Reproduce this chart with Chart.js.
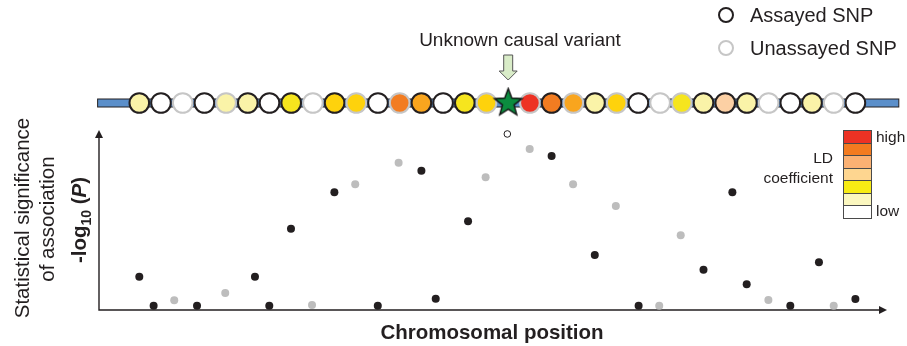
<!DOCTYPE html>
<html lang="en">
<head>
  <meta charset="UTF-8" />
  <title>Causal variant and LD</title>
  <script src="https://cdn.jsdelivr.net/npm/chart.js"></script>
  <style>
    body {
      margin: 0;
      background: #fff;
      font-family: "Liberation Sans", Arial, Helvetica, sans-serif;
      color: #231f20;
    }
    #wrap {
      position: relative;
      width: 907px;
      height: 346px;
      overflow: hidden;
    }
    #chart {
      position: absolute;
      left: 0;
      top: 0;
    }
    .lbl {
      position: absolute;
      white-space: nowrap;
      line-height: 1;
    }
    .rot {
      transform: translate(-50%, -50%) rotate(-90deg);
    }
    .ctr {
      transform: translate(-50%, -50%);
    }
    .mark {
      position: absolute;
      width: 12px;
      height: 12px;
      border-radius: 50%;
      border: 2px solid #231f20;
      transform: translate(-50%, -50%);
      background: #fff;
    }
    .ld-box {
      position: absolute;
      left: 843px;
      width: 27px;
      height: 11.5px;
      border: 1px solid #4a4a4a;
    }
  </style>
</head>
<body>
  <div id="wrap">
    <canvas id="chart" width="907" height="346"></canvas>

    <div class="lbl ctr" style="left:520px; top:39px; font-size:19px;">Unknown causal variant</div>

    <div class="mark" style="left:726px; top:15px;"></div>
    <div class="lbl" style="left:750px; top:5px; font-size:20px;">Assayed SNP</div>
    <div class="mark" style="left:726px; top:48px; border-color:#c6c6c6;"></div>
    <div class="lbl" style="left:750px; top:38px; font-size:20px;">Unassayed SNP</div>

    <div id="ld-scale"></div>
    <div class="lbl" style="left:876px; top:129px; font-size:15.5px;">high</div>
    <div class="lbl" style="left:876px; top:203px; font-size:15.5px;">low</div>
    <div class="lbl" style="right:74px; top:150px; font-size:15.5px;">LD</div>
    <div class="lbl" style="right:74px; top:170px; font-size:15.5px;">coefficient</div>

    <div class="lbl rot" style="left:22px; top:218px; font-size:20.5px;">Statistical significance</div>
    <div class="lbl rot" style="left:47px; top:219px; font-size:20.5px;">of association</div>
    <div class="lbl rot" style="left:81px; top:220px; font-size:20.5px; font-weight:bold;">-log<sub style="font-size:14px;">10</sub> (<i>P</i>)</div>

    <div class="lbl ctr" style="left:492px; top:332px; font-size:20.5px; font-weight:bold;">Chromosomal position</div>
  </div>

  <script>
    // 34 SNPs along the region, index 17 is the (unknown) causal variant
    const causalIndex = 17;

    // 1 = assayed (black), 0 = unassayed (grey)
    const snpAssayed = [1, 1, 0, 1, 0, 1, 1, 1, 0, 1, 0, 1, 0, 1, 1, 1, 0,
                        0,
                        0, 1, 0, 1, 0, 1, 0, 0, 1, 1, 1, 0, 1, 1, 0, 1];

    // LD level with the causal variant (0 = low ... 6 = high)
    const snpLD = [1, 0, 0, 0, 1, 1, 0, 2, 0, 3, 3, 0, 5, 4, 0, 2, 3,
                   6,
                   6, 5, 4, 1, 3, 0, 0, 2, 1, 3.5, 1, 0, 0, 1, 0, 0];

    // position of each SNP on the association plot (site units)
    const snpPos = [0.00, 0.66, 1.61, 2.66, 3.96, 5.33, 5.99, 6.99, 7.96, 8.99,
                    9.95, 10.99, 11.95, 13.00, 13.66, 15.15, 15.96, 16.96, 17.99, 19.00,
                    19.99, 20.99, 21.96, 23.01, 23.96, 24.95, 26.00, 27.33, 27.99, 28.99,
                    30.00, 31.32, 32.00, 33.00];

    // -log10(P)
    const snpLogP = [1.85, 0.24, 0.54, 0.24, 0.94, 1.85, 0.24, 4.52, 0.28, 6.54,
                     6.98, 0.24, 8.18, 7.74, 0.63, 4.93, 7.37, 9.78, 8.94, 8.56,
                     6.98, 3.06, 5.78, 0.24, 0.24, 4.15, 2.24, 6.54, 1.43, 0.56,
                     0.24, 2.65, 0.24, 0.61];

    // LD colour scale, top (high) to bottom (low)
    const ldScale = ['#ed3224', '#f37b20', '#fbb173', '#fed690', '#f7ec14', '#fbf7bf', '#ffffff'];

    const ldFill = {
      0: '#ffffff', 1: '#faf3a8', 2: '#f6e51e', 3: '#fed20c',
      3.5: '#fcd0a4', 4: '#f9a51e', 5: '#f27c21', 6: '#ed3224'
    };

    const INK = '#231f20';
    const GREY = '#bdbdbd';
    const Y_TOP = 10;       // top of the -log10(P) axis
    const TRACK_Y = 11.5;   // chromosome track drawn above the plot

    // LD legend boxes
    const ldBox = document.getElementById('ld-scale');
    ldScale.forEach((c, i) => {
      const d = document.createElement('div');
      d.className = 'ld-box';
      d.style.top = (130 + i * 12.5) + 'px';
      d.style.background = c;
      ldBox.appendChild(d);
    });

    function makeStar(r) {
      const c = document.createElement('canvas');
      const s = Math.ceil(r * 2 + 4);
      c.width = c.height = s;
      const g = c.getContext('2d');
      g.beginPath();
      for (let k = 0; k < 10; k++) {
        const rad = k % 2 ? r * 0.42 : r;
        const a = -Math.PI / 2 + k * Math.PI / 5;
        g.lineTo(s / 2 + rad * Math.cos(a), s / 2 + rad * Math.sin(a));
      }
      g.closePath();
      g.fillStyle = '#0b8c3f';
      g.fill();
      g.lineWidth = 1.4;
      g.strokeStyle = '#111';
      g.stroke();
      return c;
    }

    const sites = snpLD.map((ld, i) => i).filter(i => i !== causalIndex);

    // chromosome bar, axes with arrowheads, arrow to causal variant
    const decor = {
      id: 'decor',
      beforeDatasetsDraw(chart) {
        const { ctx, scales: { x, y }, chartArea: a } = chart;
        ctx.save();
        // chromosome bar
        const ty = y.getPixelForValue(TRACK_Y);
        const x0 = x.getPixelForValue(-1.92), x1 = x.getPixelForValue(35.0);
        ctx.fillStyle = '#5b8fca';
        ctx.strokeStyle = INK;
        ctx.lineWidth = 1;
        ctx.fillRect(x0, ty - 4, x1 - x0, 8);
        ctx.strokeRect(x0, ty - 4, x1 - x0, 8);

        // axes
        const top = y.getPixelForValue(Y_TOP);
        ctx.strokeStyle = INK;
        ctx.fillStyle = INK;
        ctx.lineWidth = 1.4;
        ctx.beginPath();
        ctx.moveTo(a.left, top + 6);
        ctx.lineTo(a.left, a.bottom);
        ctx.lineTo(a.right - 6, a.bottom);
        ctx.stroke();
        ctx.beginPath();
        ctx.moveTo(a.left, top);
        ctx.lineTo(a.left - 4, top + 8);
        ctx.lineTo(a.left + 4, top + 8);
        ctx.closePath();
        ctx.fill();
        ctx.beginPath();
        ctx.moveTo(a.right, a.bottom);
        ctx.lineTo(a.right - 8, a.bottom - 4);
        ctx.lineTo(a.right - 8, a.bottom + 4);
        ctx.closePath();
        ctx.fill();
        ctx.restore();
      },
      afterDatasetsDraw(chart) {
        const { ctx, scales: { x } } = chart;
        const cx = x.getPixelForValue(causalIndex);
        ctx.save();
        ctx.beginPath();
        ctx.moveTo(cx - 4.5, 55);
        ctx.lineTo(cx + 4.5, 55);
        ctx.lineTo(cx + 4.5, 71);
        ctx.lineTo(cx + 9, 71);
        ctx.lineTo(cx, 80);
        ctx.lineTo(cx - 9, 71);
        ctx.lineTo(cx - 4.5, 71);
        ctx.closePath();
        ctx.fillStyle = '#d9ecc8';
        ctx.fill();
        ctx.strokeStyle = '#555';
        ctx.lineWidth = 1;
        ctx.stroke();
        ctx.restore();
      }
    };

    new Chart(document.getElementById('chart'), {
      type: 'scatter',
      data: {
        datasets: [
          {
            label: 'Causal variant',
            data: [{ x: causalIndex, y: TRACK_Y }],
            pointStyle: makeStar(14.5),
            clip: false,
            order: 0
          },
          {
            label: 'SNPs on chromosome',
            data: sites.map(i => ({ x: i, y: TRACK_Y })),
            pointRadius: 9.8,
            borderWidth: 2,
            backgroundColor: sites.map(i => ldFill[snpLD[i]]),
            borderColor: sites.map(i => snpAssayed[i] ? INK : '#c6c6c6'),
            clip: false,
            order: 2
          },
          {
            label: 'Association',
            data: snpPos.map((p, i) => ({ x: p, y: snpLogP[i] })),
            pointRadius: snpPos.map((p, i) => i === causalIndex ? 3.3 : 4),
            borderWidth: snpPos.map((p, i) => i === causalIndex ? 1 : 0),
            backgroundColor: snpPos.map((p, i) => i === causalIndex ? '#fff' : (snpAssayed[i] ? INK : GREY)),
            borderColor: INK,
            clip: false,
            order: 1
          }
        ]
      },
      options: {
        responsive: false,
        animation: false,
        events: [],
        layout: { padding: { left: 99, right: 20, top: 80, bottom: 36 } },
        scales: {
          x: { type: 'linear', display: false, min: -1.857, max: 34.456 },
          y: { type: 'linear', display: false, min: 0, max: 12.778 }
        },
        plugins: {
          legend: { display: false },
          tooltip: { enabled: false }
        }
      },
      plugins: [decor]
    });
  </script>
</body>
</html>
